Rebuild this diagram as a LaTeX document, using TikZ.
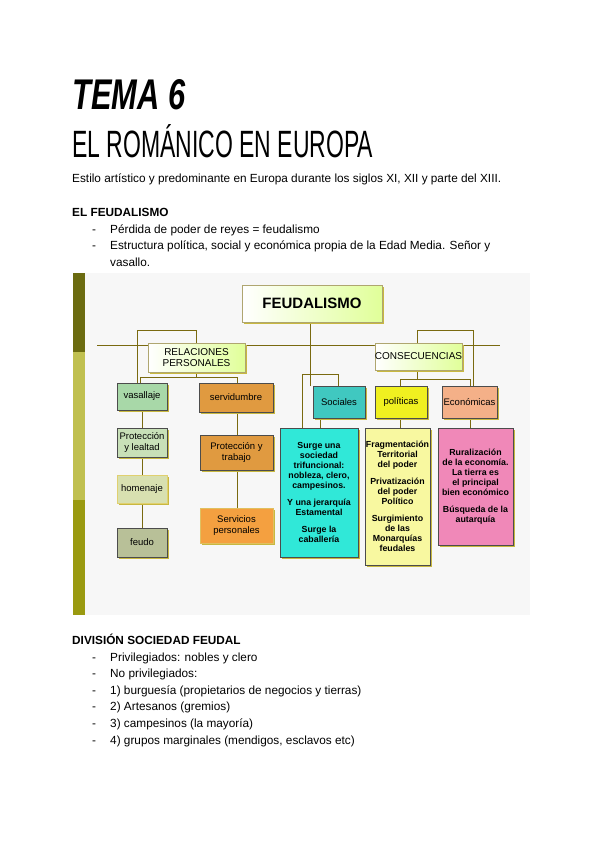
\documentclass[tikz,border=0pt]{standalone}
\usepackage{fontspec}
\setmainfont{Liberation Sans}
\usetikzlibrary{shadows}
\definecolor{ln}{HTML}{7A6A10}
\definecolor{shd}{HTML}{C8B840}
\definecolor{barA}{HTML}{6B6B10}
\definecolor{barB}{HTML}{C0C050}
\definecolor{barC}{HTML}{9A9A10}
\definecolor{cVa}{HTML}{A8D8A8}
\definecolor{cSe}{HTML}{E09A40}
\definecolor{cSo}{HTML}{40C8C0}
\definecolor{cPo}{HTML}{F0F020}
\definecolor{cEc}{HTML}{F4B088}
\definecolor{cPl}{HTML}{C8E0B8}
\definecolor{cHoD}{HTML}{E0D070}
\definecolor{cHo}{HTML}{D8E0B0}
\definecolor{cFe}{HTML}{B8C098}
\definecolor{cSpD}{HTML}{E0C060}
\definecolor{cSp}{HTML}{F4A040}
\definecolor{cCy}{HTML}{30E8D8}
\definecolor{cYe}{HTML}{F8F8A0}
\definecolor{cPk}{HTML}{F088B8}
\tikzset{
 bx/.style={draw=black!70,line width=0.6pt,inner sep=0pt,align=center,font=\fontsize{9.5}{11}\selectfont,
   drop shadow={shadow xshift=2pt,shadow yshift=-2pt,fill=shd,opacity=1}},
 hd/.style={bx,draw=ln!60,left color=white,right color=green!30!yellow!40,font=\fontsize{10}{11.5}\selectfont},
 big/.style={draw=black!70,line width=0.6pt,inner sep=0pt,align=center,font=\bfseries\fontsize{8.8}{10}\selectfont,
   drop shadow={shadow xshift=2pt,shadow yshift=-2pt,fill=shd,opacity=1}},
 cn/.style={ln,line width=0.9pt},
 txt/.style={anchor=base west,inner sep=0pt,font=\fontsize{11.8}{13}\selectfont},
}
\begin{document}
\begin{tikzpicture}[x=1pt,y=-1pt]
\useasboundingbox (0,0) rectangle (600,848);
\fill[white] (0,0) rectangle (600,848);
% titles
\node[anchor=south west,inner sep=0pt] (t1) at (72,110) {\resizebox{113pt}{30pt}{\bfseries\itshape TEMA 6}};
\node[anchor=south west,inner sep=0pt] (t2) at (72,158) {\resizebox{301pt}{33pt}{EL ROMÁNICO EN EUROPA}};
\node[txt] (l1) at (72,182) {Estilo artístico y predominante en Europa durante los siglos XI, XII y parte del XIII.};
\node[txt,font=\bfseries\fontsize{11.8}{13}\selectfont] (l2) at (72,216) {EL FEUDALISMO};
\node[txt] (d1) at (92,233) {-};\node[txt] (b1) at (110,233) {Pérdida de poder de reyes = feudalismo};
\node[txt] (d2) at (92,249) {-};\node[txt] (b2) at (110,249) {Estructura política, social y económica propia de la Edad Media. Señor y};
\node[txt] (b3) at (110,266) {vasallo.};
% diagram background
\fill[black!3] (73,273) rectangle (530,615);
\fill[barA] (73,273) rectangle (85,352);
\fill[barB] (73,352) rectangle (85,500);
\fill[barC] (73,500) rectangle (85,615);
% lines
\draw[cn] (97,345) -- (500,345);
\draw[cn] (310,322) -- (310,386);
\draw[cn] (137,330) -- (196,330) -- (196,343);
\draw[cn] (137,330) -- (137,383);
\draw[cn] (140,383) -- (140,377) -- (237,377) -- (237,383);
\draw[cn] (196,372) -- (196,377);
\draw[cn] (417,343) -- (417,330) -- (473,330) -- (473,386);
\draw[cn] (417,370) -- (417,379);
\draw[cn] (400,386) -- (400,379) -- (470,379) -- (470,386);
\draw[cn] (302,428) -- (302,374) -- (338,374) -- (338,386);
\draw[cn] (142,410) -- (142,528);
\draw[cn] (237,412) -- (237,508);
\draw[cn] (320,428) -- (320,418);
\draw[cn] (400,428) -- (400,418);
\draw[cn] (470,428) -- (470,418);
% header boxes
\node[hd,minimum width=140pt,minimum height=37pt,font=\bfseries\fontsize{15}{17}\selectfont] (f) at (312,303.5) {FEUDALISMO};
\node[hd,minimum width=97pt,minimum height=29pt] (rp) at (196.5,357.5) {RELACIONES\\PERSONALES};
\node[hd,minimum width=87pt,minimum height=27pt] (co) at (418.5,356.5) {CONSECUENCIAS};
% level 2
\node[bx,fill=cVa,minimum width=50pt,minimum height=27pt] (va) at (142,396.5) {vasallaje};
\node[bx,fill=cSe,minimum width=74pt,minimum height=29pt] (se) at (236,397.5) {servidumbre};
\node[bx,fill=cSo,minimum width=52pt,minimum height=32pt] (so) at (339,402) {Sociales};
\node[bx,fill=cPo,minimum width=52pt,minimum height=32pt] (po) at (401,402) {políticas};
\node[bx,fill=cEc,minimum width=55pt,minimum height=32pt] (ec) at (469.5,402) {Económicas};
% level 3
\node[bx,fill=cPl,minimum width=50pt,minimum height=29pt] (pl) at (142,442.5) {Protección\\y lealtad};
\node[bx,draw=cHoD,fill=cHo,minimum width=50pt,minimum height=28pt] (ho) at (142,489) {homenaje};
\node[bx,fill=cFe,minimum width=50pt,minimum height=29pt] (fe) at (142,542.5) {feudo};
\node[bx,fill=cSe,minimum width=73pt,minimum height=35pt] (pt) at (236.5,452.5) {Protección y\\trabajo};
\node[bx,draw=cSpD,fill=cSp,minimum width=73pt,minimum height=35pt] (sp) at (236.5,525.5) {Servicios\\personales};
\node[big,fill=cCy,minimum width=78pt,minimum height=129pt,anchor=north] (cy) at (319,428) {Surge una\\sociedad\\trifuncional:\\nobleza, clero,\\campesinos.\\[7pt]Y una jerarquía\\Estamental\\[7pt]Surge la\\caballería};
\node[big,fill=cYe,minimum width=65pt,minimum height=137pt,anchor=north] (ye) at (397.5,428) {Fragmentación\\Territorial\\del poder\\[7pt]Privatización\\del poder\\Político\\[7pt]Surgimiento\\de las\\Monarquías\\feudales};
\node[big,fill=cPk,minimum width=75pt,minimum height=117pt,anchor=north] (pk) at (475.5,428) {Ruralización\\de la economía.\\La tierra es\\el principal\\bien económico\\[7pt]Búsqueda de la\\autarquía};
% bottom text
\node[txt,font=\bfseries\fontsize{11.8}{13}\selectfont] (l3) at (72,644) {DIVISIÓN SOCIEDAD FEUDAL};
\foreach \y/\t [count=\i] in {661/Privilegiados: nobles y clero,677/No privilegiados:,694/1) burguesía (propietarios de negocios y tierras),710/2) Artesanos (gremios),727/3) campesinos (la mayoría),744/4) grupos marginales (mendigos{,} esclavos etc)}{
 \node[txt] (dd\i) at (92,\y) {-};
 \node[txt] (bb\i) at (110,\y) {\t};
}
\end{tikzpicture}
\end{document}
